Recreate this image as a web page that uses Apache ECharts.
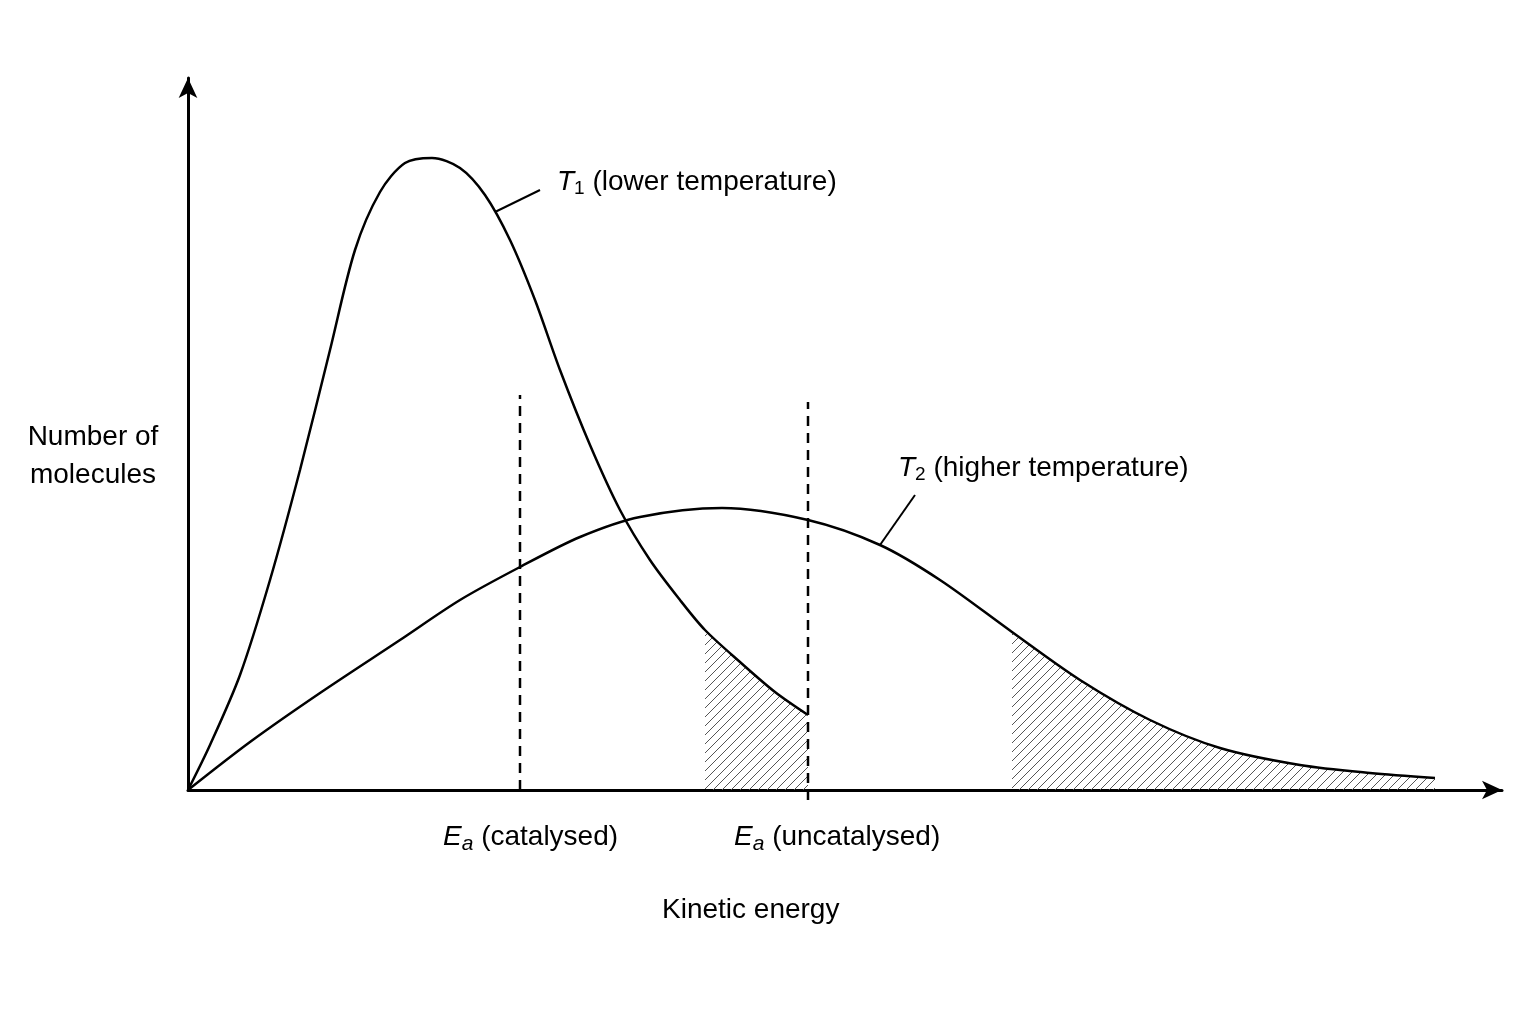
<!DOCTYPE html><html><head><meta charset="utf-8"><script src="https://cdn.jsdelivr.net/npm/echarts@6/dist/echarts.min.js"></script>
<style>html,body{margin:0;background:#fff}#c{width:1536px;height:1024px}</style></head><body><div id="c"></div><script>
// data in pixel-derived units: x = energy, y = number of molecules
const t1 = [[0,0],[22,45],[52,115],[82,210],[112,320],[142,440],[167,540],[192,598],[217,627],[244,632],[272,622],[297,595],[322,550],[347,490],[372,420],[402,345],[432,280],[462,230],[492,190],[517,160],[552,128],[587,98],[620,75]];
const t2 = [[0,0],[62,48],[132,97],[212,150],[272,190],[332,223],[392,253],[452,273],[534,282],[620,270],[692,245],[752,210],[824,158],[892,110],[962,70],[1032,42],[1112,25],[1182,17],[1247,12]];
const shade1 = t1.filter(p => p[0] >= 517);
const shade2 = t2.filter(p => p[0] >= 824);
const eaCat = 332, eaUncat = 620;
const pc = document.createElement('canvas'); pc.width = 9; pc.height = 9;
const g = pc.getContext('2d'); g.strokeStyle = '#555'; g.lineWidth = 1;
g.beginPath(); g.moveTo(0,9); g.lineTo(9,0); g.moveTo(-1,1); g.lineTo(1,-1); g.moveTo(8,10); g.lineTo(10,8); g.stroke();
const hatch = {image: pc, repeat: 'repeat'};
const ch = echarts.init(document.getElementById('c'));
const F = 'Liberation Sans, Arial, sans-serif';
const SM = 0.3;
const rich = {i:{fontStyle:'italic',fontSize:28,fontFamily:F},s:{fontSize:19,fontFamily:F,padding:[14,0,0,0]},si:{fontStyle:'italic',fontSize:21,fontFamily:F,padding:[14,0,0,0]},n:{fontSize:28,fontFamily:F}};
ch.setOption({
  animation:false,
  grid:{left:188,right:34,top:78,bottom:234},
  xAxis:{type:'value',min:0,max:1314,axisLine:{lineStyle:{color:'#000',width:3},symbol:['none','arrow'],symbolSize:[14,20]},axisTick:{show:false},axisLabel:{show:false},splitLine:{show:false}},
  yAxis:{type:'value',min:0,max:712,axisLine:{show:true,lineStyle:{color:'#000',width:3},symbol:['none','arrow'],symbolSize:[14,20]},axisTick:{show:false},axisLabel:{show:false},splitLine:{show:false}},
  series:[
    {type:'line',data:shade1,smooth:SM,symbol:'none',lineStyle:{width:0},areaStyle:{color:hatch,opacity:1}},
    {type:'line',data:shade2,smooth:SM,symbol:'none',lineStyle:{width:0},areaStyle:{color:hatch,opacity:1}},
    {type:'line',data:t1,smooth:SM,symbol:'none',lineStyle:{color:'#000',width:2.5}},
    {type:'line',data:t2,smooth:SM,symbol:'none',lineStyle:{color:'#000',width:2.5}},
    {type:'line',data:[[eaCat,0],[eaCat,395]],symbol:'none',lineStyle:{color:'#000',width:2.5,type:[10,7]}},
    {type:'line',data:[[eaUncat,-10],[eaUncat,388]],clip:false,symbol:'none',lineStyle:{color:'#000',width:2.5,type:[10,7]}},
    {type:'line',data:[[307,578],[352,600]],symbol:'none',lineStyle:{color:'#000',width:2}},
    {type:'line',data:[[692,245],[727,295]],symbol:'none',lineStyle:{color:'#000',width:2}}
  ],
  graphic:[
    {type:'text',left:557,top:168,style:{rich,text:'{i|T}{s|1}{n| (lower temperature)}',fill:'#000'}},
    {type:'text',left:898,top:454,style:{rich,text:'{i|T}{s|2}{n| (higher temperature)}',fill:'#000'}},
    {type:'text',left:443,top:823,style:{rich,text:'{i|E}{si|a}{n| (catalysed)}',fill:'#000'}},
    {type:'text',left:734,top:823,style:{rich,text:'{i|E}{si|a}{n| (uncatalysed)}',fill:'#000'}},
    {type:'text',left:662,top:896,style:{text:'Kinetic energy',font:'28px '+F,fill:'#000'}},
    {type:'text',x:93,y:418,style:{text:'Number of\nmolecules',font:'28px '+F,lineHeight:38,align:'center',fill:'#000'}}
  ]
});
</script></body></html>
